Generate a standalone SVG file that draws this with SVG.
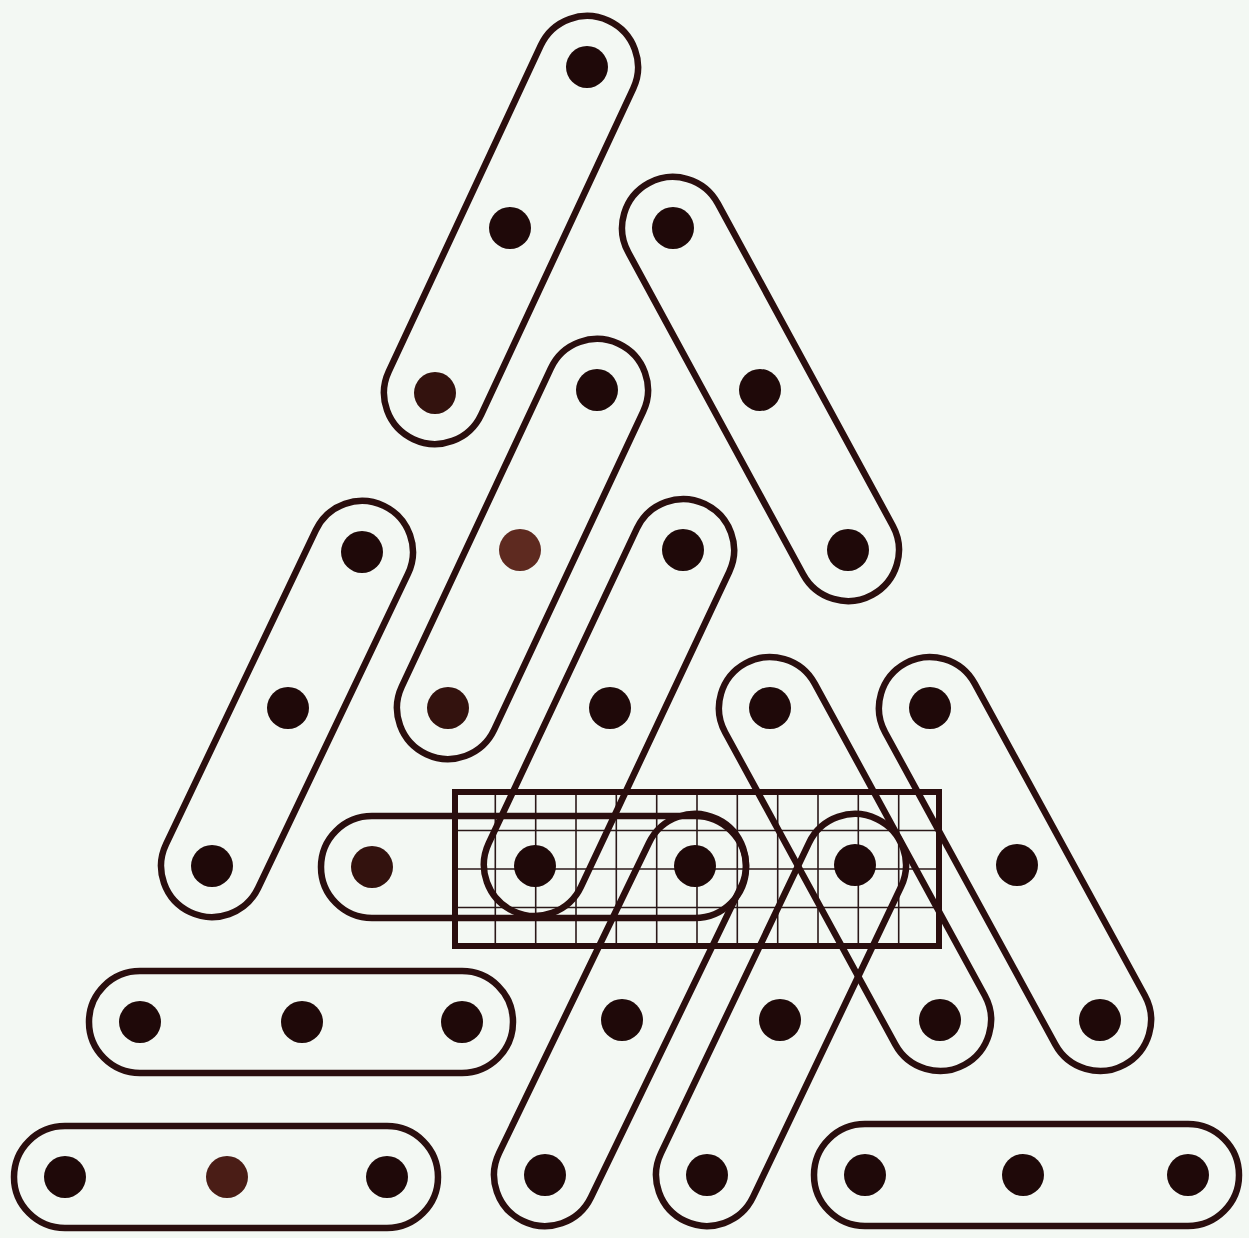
<svg xmlns="http://www.w3.org/2000/svg" width="1249" height="1238" viewBox="0 0 1249 1238">
<style>
.cap{fill:none;stroke:#2a0e0e;stroke-width:6.5}
.dot{fill:#1f0909}
.dot.b{fill:#33120e}
.frame{fill:none;stroke:#2a0e0e;stroke-width:6}
.gl{stroke:#2a1818;stroke-width:1.6}
</style>
<rect width="1249" height="1238" fill="#f3f8f3"/>
<g id="grid">
<g class="gl">
<line x1="495.3" y1="792" x2="495.3" y2="946"/>
<line x1="535.7" y1="792" x2="535.7" y2="946"/>
<line x1="576" y1="792" x2="576" y2="946"/>
<line x1="616.3" y1="792" x2="616.3" y2="946"/>
<line x1="656.7" y1="792" x2="656.7" y2="946"/>
<line x1="697" y1="792" x2="697" y2="946"/>
<line x1="737.3" y1="792" x2="737.3" y2="946"/>
<line x1="777.7" y1="792" x2="777.7" y2="946"/>
<line x1="818" y1="792" x2="818" y2="946"/>
<line x1="858.3" y1="792" x2="858.3" y2="946"/>
<line x1="898.7" y1="792" x2="898.7" y2="946"/>
<line x1="455" y1="830.5" x2="939" y2="830.5"/>
<line x1="455" y1="869" x2="939" y2="869"/>
<line x1="455" y1="907.5" x2="939" y2="907.5"/>
</g>
<rect class="frame" x="455" y="792" width="484" height="154"/>
</g>
<g id="capsules">
<g id="cap1"><rect class="cap" x="-230.85" y="-51" width="461.7" height="102" rx="51" transform="translate(511 230) rotate(115)"/></g>
<g id="cap2"><rect class="cap" x="-234.25" y="-51" width="468.5" height="102" rx="51" transform="translate(760.5 389) rotate(61.5)"/></g>
<g id="cap3"><rect class="cap" x="-226.6" y="-51" width="453.2" height="102" rx="51" transform="translate(522.5 549) rotate(115.1)"/></g>
<g id="cap4"><rect class="cap" x="-225" y="-51" width="450" height="102" rx="51" transform="translate(287 709) rotate(115.5)"/></g>
<g id="cap5"><rect class="cap" x="-225" y="-51" width="450" height="102" rx="51" transform="translate(609 707.5) rotate(115.2)"/></g>
<g id="cap6"><rect class="cap" x="-212.5" y="-51" width="425" height="102" rx="51" transform="translate(533.5 867)"/></g>
<g id="cap7"><rect class="cap" x="-228.65" y="-51" width="457.3" height="102" rx="51" transform="translate(855 864) rotate(61.4)"/></g>
<g id="cap8"><rect class="cap" x="-228.65" y="-51" width="457.3" height="102" rx="51" transform="translate(1015 864) rotate(61.4)"/></g>
<g id="cap9"><rect class="cap" x="-223.2" y="-51" width="446.4" height="102" rx="51" transform="translate(620 1020) rotate(115.8)"/></g>
<g id="cap10"><rect class="cap" x="-222.75" y="-51" width="445.5" height="102" rx="51" transform="translate(781 1020) rotate(115.5)"/></g>
<g id="cap11"><rect class="cap" x="-212" y="-51" width="424" height="102" rx="51" transform="translate(301 1022)"/></g>
<g id="cap12"><rect class="cap" x="-212" y="-51" width="424" height="102" rx="51" transform="translate(226 1177)"/></g>
<g id="cap13"><rect class="cap" x="-212.5" y="-51" width="425" height="102" rx="51" transform="translate(1026.5 1175)"/></g>
</g>
<g id="dots">
<circle class="dot" cx="587" cy="67" r="21"/>
<circle class="dot" cx="510" cy="228" r="21"/>
<circle class="dot" cx="673" cy="228" r="21"/>
<circle class="dot b" cx="435" cy="393" r="21"/>
<circle class="dot" cx="597" cy="390" r="21"/>
<circle class="dot" cx="760" cy="390" r="21"/>
<circle class="dot" cx="362" cy="552" r="21"/>
<circle class="dot" cx="520" cy="550" r="21" style="fill:#5e2a20"/>
<circle class="dot" cx="683" cy="550" r="21"/>
<circle class="dot" cx="848" cy="550" r="21"/>
<circle class="dot" cx="288" cy="708" r="21"/>
<circle class="dot b" cx="448" cy="708" r="21"/>
<circle class="dot" cx="610" cy="708" r="21"/>
<circle class="dot" cx="770" cy="708" r="21"/>
<circle class="dot" cx="930" cy="708" r="21"/>
<circle class="dot" cx="212" cy="866" r="21"/>
<circle class="dot b" cx="372" cy="867" r="21"/>
<circle class="dot" cx="535" cy="866" r="21"/>
<circle class="dot" cx="695" cy="866" r="21"/>
<circle class="dot" cx="855" cy="865" r="21"/>
<circle class="dot" cx="1017" cy="865" r="21"/>
<circle class="dot" cx="140" cy="1022" r="21"/>
<circle class="dot" cx="302" cy="1022" r="21"/>
<circle class="dot" cx="462" cy="1022" r="21"/>
<circle class="dot" cx="622" cy="1020" r="21"/>
<circle class="dot" cx="780" cy="1020" r="21"/>
<circle class="dot" cx="940" cy="1020" r="21"/>
<circle class="dot" cx="1100" cy="1020" r="21"/>
<circle class="dot" cx="65" cy="1177" r="21"/>
<circle class="dot" cx="227" cy="1177" r="21" style="fill:#4a1d16"/>
<circle class="dot" cx="387" cy="1177" r="21"/>
<circle class="dot" cx="545" cy="1175" r="21"/>
<circle class="dot" cx="707" cy="1175" r="21"/>
<circle class="dot" cx="865" cy="1175" r="21"/>
<circle class="dot" cx="1023" cy="1175" r="21"/>
<circle class="dot" cx="1188" cy="1175" r="21"/>
</g>
</svg>
